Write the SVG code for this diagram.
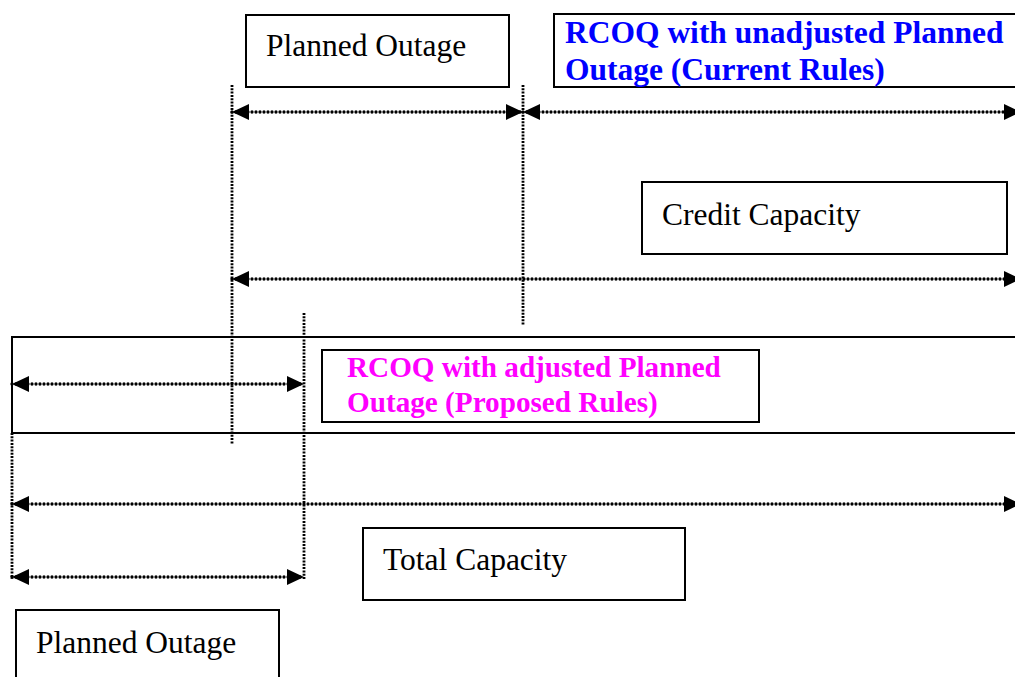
<svg xmlns="http://www.w3.org/2000/svg" width="1015" height="677" viewBox="0 0 1015 677">
  <style>
    .box { fill: #ffffff; stroke: #000000; stroke-width: 2; }
    .band { fill: none; stroke: #000000; stroke-width: 2; }
    .lbl { font-family: "Liberation Serif", "Times New Roman", serif; font-size: 31.5px; fill: #000000; }
    .blue { font-weight: bold; fill: #0000ff; }
    .pink { font-weight: bold; fill: #ff00ff; font-size: 29.2px; }
    .guide { stroke: #000000; stroke-width: 2.8; stroke-dasharray: 2 1.3; fill: none; }
    .dim { stroke: #000000; stroke-width: 3.3; stroke-linecap: round; stroke-dasharray: 0 4; fill: none; marker-start: url(#head); marker-end: url(#head); }
  </style>
  <defs>
    <marker id="head" markerUnits="userSpaceOnUse" markerWidth="18" markerHeight="17" viewBox="0 0 18 17" refX="17" refY="8.5" orient="auto-start-reverse">
      <path d="M0,0.5 L17,8.5 L0,16.5 Z" fill="#000000"/>
    </marker>
  </defs>
  <rect width="1015" height="677" fill="#ffffff"/>

  <!-- band framing the proposed-rules RCOQ -->
  <g id="rcoq-band">
    <path class="band" d="M1020,337 H12 V433 H1020"/>
  </g>

  <!-- vertical guides and dimension arrows -->
  <g id="connectors">
    <line class="guide" x1="232" y1="85" x2="232" y2="444"/>
    <line class="guide" x1="523" y1="85" x2="523" y2="325"/>
    <line class="guide" x1="304" y1="313" x2="304" y2="579"/>
    <line class="guide" x1="12" y1="433" x2="12" y2="579"/>

    <line class="dim" x1="232" y1="112" x2="523" y2="112"/>
    <line class="dim" x1="523" y1="112" x2="1021" y2="112"/>
    <line class="dim" x1="232" y1="279" x2="1021" y2="279"/>
    <line class="dim" x1="12" y1="384" x2="304" y2="384"/>
    <line class="dim" x1="12" y1="504" x2="1021" y2="504"/>
    <line class="dim" x1="12" y1="577" x2="304" y2="577"/>
  </g>

  <g id="planned-outage-top">
    <rect class="box" x="246" y="15" width="263" height="72"/>
    <text class="lbl" x="266" y="56">Planned Outage</text>
  </g>

  <g id="rcoq-current">
    <rect class="box" x="554" y="14" width="470" height="73"/>
    <text class="lbl blue" x="565" y="43">RCOQ with unadjusted Planned</text>
    <text class="lbl blue" x="565" y="80">Outage (Current Rules)</text>
  </g>

  <g id="credit-capacity">
    <rect class="box" x="642" y="182" width="365" height="72"/>
    <text class="lbl" x="662" y="225">Credit Capacity</text>
  </g>

  <g id="rcoq-proposed">
    <rect class="box" x="322" y="350" width="437" height="72"/>
    <text class="lbl pink" x="347" y="377">RCOQ with adjusted Planned</text>
    <text class="lbl pink" x="347" y="412">Outage (Proposed Rules)</text>
  </g>

  <g id="total-capacity">
    <rect class="box" x="363" y="528" width="322" height="72"/>
    <text class="lbl" x="383" y="570">Total Capacity</text>
  </g>

  <g id="planned-outage-bottom">
    <rect class="box" x="16" y="610" width="263" height="80"/>
    <text class="lbl" x="36" y="653">Planned Outage</text>
  </g>
</svg>
